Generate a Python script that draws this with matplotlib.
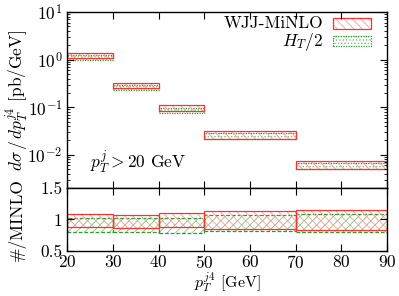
import numpy as np
import matplotlib
matplotlib.use("Agg")
import matplotlib.pyplot as plt

plt.rcParams['font.family'] = 'cmr10'
plt.rcParams['mathtext.fontset'] = 'cm'
plt.rcParams['axes.formatter.use_mathtext'] = True
plt.rcParams['font.size'] = 12.5
plt.rcParams['hatch.linewidth'] = 0.6

# bin edges in pT^j4
edges = [20, 30, 40, 50, 70, 90]

# top panel: band lo/hi  [pb/GeV]
minlo_lo = [1.09, 0.250, 0.0822, 0.0216, 0.00513]
minlo_hi = [1.36, 0.319, 0.1087, 0.0309, 0.00745]
ht2_lo = [1.00, 0.233, 0.075, 0.021, 0.0051]
ht2_hi = [1.28, 0.300, 0.098, 0.028, 0.0068]

# ratio panel: band lo/hi relative to MINLO
rminlo_lo = [0.874, 0.870, 0.874, 0.850, 0.830]
rminlo_hi = [1.094, 1.078, 1.110, 1.140, 1.145]
rht2_lo = [0.805, 0.805, 0.780, 0.810, 0.805]
rht2_hi = [1.030, 1.030, 1.016, 1.065, 1.080]

red = '#ff3030'
red_h = '#ff9a9a'
green = '#2e9a2e'
green_h = '#7cc47c'

left = np.array(edges[:-1])
width = np.diff(edges)

fig = plt.figure(figsize=(3.99, 2.96), dpi=100)
ax0 = fig.add_axes([0.169, 0.365, 0.801, 0.594])
ax1 = fig.add_axes([0.169, 0.152, 0.801, 0.213])


def band(ax, lo, hi, hcol, ecol, hatch, ls):
    lo = np.array(lo); hi = np.array(hi)
    ax.bar(left, hi - lo, bottom=lo, width=width, align='edge',
           color='none', edgecolor=hcol, hatch=hatch, linewidth=0)
    ax.bar(left, hi - lo, bottom=lo, width=width, align='edge',
           color='none', edgecolor=ecol, linewidth=0.9, linestyle=ls)


# top panel
band(ax0, ht2_lo, ht2_hi, green_h, green, '.....', (0, (1, 1)))
band(ax0, minlo_lo, minlo_hi, red_h, red, '\\\\\\\\', '-')
ax0.set_yscale('log')
ax0.set_ylim(2e-3, 10)
ax0.set_xlim(20, 90)
ax0.set_xticks(range(20, 91, 10))
ax0.tick_params(axis='x', labelbottom=False)
ax0.set_ylabel(r'$d\sigma\,/\,dp_T^{j4}$ [pb/GeV]', va='center')
ax0.yaxis.set_label_coords(-0.158, 0.5)
ax0.text(0.07, 0.115, r'$p_T^j > 20$ GeV', transform=ax0.transAxes)

# legend (drawn by hand like gnuplot key)
ax0.text(0.80, 0.935, 'WJJ-MiNLO', transform=ax0.transAxes, ha='right', va='center')
ax0.text(0.80, 0.83, r'$H_T/2$', transform=ax0.transAxes, ha='right', va='center')
for yy, hc, ec, ht, ls in [(0.905, red_h, red, '\\\\\\\\', '-'),
                           (0.805, green_h, green, '.....', (0, (1, 1)))]:
    ax0.add_patch(plt.Rectangle((0.83, yy), 0.12, 0.06, transform=ax0.transAxes,
                                fill=False, edgecolor=hc, hatch=ht, linewidth=0))
    ax0.add_patch(plt.Rectangle((0.83, yy), 0.12, 0.06, transform=ax0.transAxes,
                                fill=False, edgecolor=ec, linewidth=0.9, linestyle=ls))

# ratio panel
band(ax1, rht2_lo, rht2_hi, green_h, green, '////', (0, (3, 1.5)))
band(ax1, rminlo_lo, rminlo_hi, red_h, red, '\\\\\\\\', '-')
ax1.set_ylim(0.5, 1.5)
ax1.set_xlim(20, 90)
ax1.set_xticks(range(20, 91, 10))
ax1.set_yticks([0.5, 1, 1.5])
ax1.set_yticklabels(['0.5', '1', '1.5'])
ax1.tick_params(axis='x', pad=2)
ax1.set_ylabel('#/MINLO', va='center')
ax1.yaxis.set_label_coords(-0.158, 0.5)
ax1.set_xlabel(r'$p_T^{j4}$ [GeV]', va='bottom', fontsize=11.5)
ax1.xaxis.set_label_coords(0.5, -0.7)

for ax in (ax0, ax1):
    ax.tick_params(which='both', direction='in', top=True, right=True)
    ax.tick_params(which='major', length=5, width=0.8)
    ax.tick_params(which='minor', length=2.5, width=0.6)
    for s in ax.spines.values():
        s.set_linewidth(1.0)

fig.savefig('out.png', dpi=100)
